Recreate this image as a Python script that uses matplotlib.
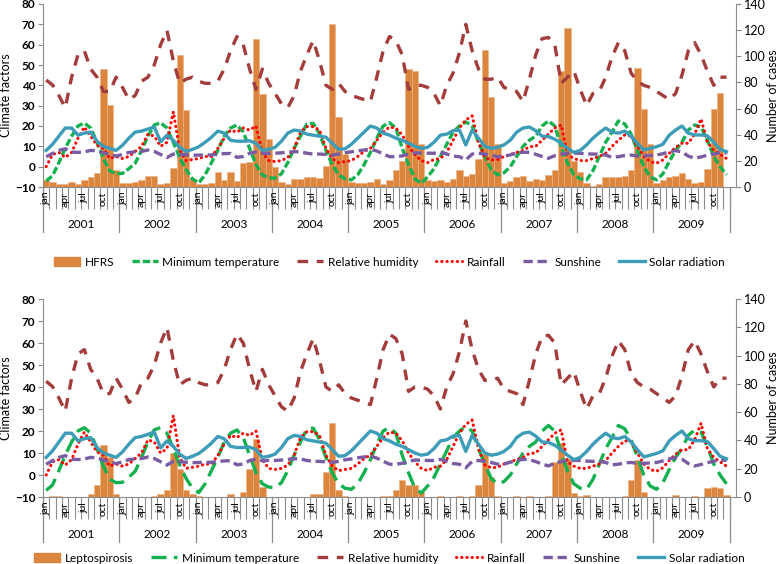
import matplotlib.pyplot as plt
import matplotlib.transforms as mtransforms
from matplotlib.lines import Line2D
import numpy as np

plt.rcParams['font.family'] = ['Lato', 'DejaVu Sans']

years = ['2001', '2002', '2003', '2004', '2005', '2006', '2007', '2008', '2009']
month_labels = ['jan', '', '', 'apr', '', '', 'jul', '', '', 'oct', '', '']

# climate factors, monthly 2001-2009 (left axis)
min_temp = [
    -7, -4.5, 2, 9, 15, 20, 21.5, 19, 12, 4, -2, -3.5,
    -3.3, -1, 1.7, 8, 15, 20.5, 21.6, 19, 12, 4.5, -1.5, -6,
    -8, -4, 2, 8, 15, 19, 20.5, 17, 9, 1, -4, -5.5,
    -5.7, -3.5, 2, 9, 15, 21, 21.3, 16, 8, 1, -4, -6,
    -6.5, -4, 1, 7, 14, 20, 21.6, 19, 9, 1, -6, -8.2,
    -5, -1, 5, 11, 17, 20, 22, 20, 12, 4.9, -1.6, -4,
    -3, 0, 5, 10, 13, 15, 20, 22.5, 20, 10, 1.7, -4,
    -6, -6.5, -2, 5, 12, 17, 22.5, 21, 16, 8, 0, -5,
    -6.5, -3.5, 2.5, 8, 12, 18, 20.5, 19.5, 13, 5, 0, -4,
]
rel_humidity = [
    42.6, 40.2, 35, 29, 44, 55, 57, 48, 44, 37, 37, 44,
    39, 33, 35, 42, 44, 50, 60, 67, 52, 41, 43, 44,
    42, 41, 41, 42, 48, 57, 64, 60, 48, 38, 48, 41,
    36, 31, 29, 35, 47, 55, 62, 52, 40, 38, 41, 37,
    35, 34, 33, 32, 44, 57, 64, 62, 55, 38, 40, 40,
    39, 36, 30, 40, 46, 56, 70, 57, 48, 43, 43, 44,
    39, 38, 37, 32, 43, 55, 63, 63.5, 60, 41, 44, 47,
    38, 30, 36, 37, 44, 54, 61, 57, 46, 42, 40, 39,
    37, 35, 33, 36, 45, 57, 61, 55, 47, 40, 44, 44,
]
rainfall = [
    0, 6, 7, 4.5, 7, 14, 19.5, 15, 10.5, 9, 4, 5,
    4, 5, 7.5, 10, 16, 15, 10, 12, 27, 8, 3, 3.5,
    4, 5, 5, 9, 14, 18, 17, 19, 18, 20, 7, 3,
    2.5, 3, 4.5, 9, 17, 19.7, 19.7, 18, 9, 4, 2, 2.5,
    3, 5, 7.5, 9, 13, 17, 19.5, 19, 15.6, 10, 6, 3,
    2, 3.5, 4, 7, 13, 19, 23, 25, 12, 4.5, 3.3, 3.5,
    5, 6, 7, 8, 9.8, 10, 13, 16, 19, 20.5, 6, 4,
    3, 3, 4, 5, 6.6, 10, 13, 15.6, 15, 10, 5, 2.5,
    1.7, 3.3, 6.6, 9.5, 11.5, 11.5, 16, 23.5, 12, 8, 6, 4,
]
sunshine = [
    4.9, 6.5, 8, 8.8, 7.2, 7.0, 7.3, 8, 7.8, 6.8, 6, 5.2,
    6, 7, 7.3, 7.5, 8.2, 7.5, 6, 4.5, 6.2, 6, 5.8, 5.6,
    5.7, 5.7, 5.8, 6.2, 6.4, 6.5, 4.6, 5, 6.6, 7.2, 6.5, 6.6,
    6.6, 6.8, 7.1, 7.4, 7.3, 6.6, 6.2, 6.2, 6, 5.7, 6.2, 6.9,
    7.3, 7.8, 8.2, 8.6, 7.7, 6.3, 4.9, 4.9, 5.3, 6.2, 6.8, 6.7,
    6.6, 6.6, 7.1, 6.2, 5.2, 4.9, 3.3, 6.2, 6.6, 6.2, 5.7, 4.9,
    5, 5.8, 6.6, 7.1, 7, 6.1, 5, 4.1, 5.4, 6.1, 6.6, 6.6,
    6.6, 6.3, 6.2, 6.2, 5.7, 4.6, 4.9, 5.5, 5.7, 5.2, 5.3, 5.5,
    5.7, 6.4, 7.3, 7.9, 7.2, 5.2, 4.1, 4.8, 5.6, 6.2, 6.9, 6.6,
]
solar_radiation = [
    8, 11, 15, 19, 19, 15.5, 16.5, 17, 12.5, 10, 9, 8,
    10.5, 14, 17, 17.5, 18.5, 19.5, 12.3, 15.5, 13, 9.5, 7.5, 8.5,
    9.8, 12, 14.5, 17.5, 16.5, 13, 12.5, 12.5, 12.7, 11.5, 8, 8.5,
    9.5, 12.5, 16.5, 18, 17.5, 16, 15.5, 15, 14.5, 11.5, 8.5, 8.8,
    11, 14, 17, 20, 19, 16.5, 15.5, 14, 13, 11.5, 10, 9,
    9.5, 12, 15.5, 16, 17.7, 18, 10.7, 18, 14, 10, 9, 9.5,
    10.7, 13, 17, 19, 19.5, 17.7, 15, 14.8, 13.5, 11.5, 9, 7,
    8, 10.7, 14, 16.7, 19, 17, 16.5, 17.5, 15, 11.5, 8.2, 9,
    9.8, 11, 15.5, 18, 20, 16.5, 15.6, 15.6, 15.2, 12, 8.5, 7.4,
]

# number of cases (right axis)
hfrs = [
    5, 3.5, 2, 2, 3.5, 2, 5, 7.6, 10.7, 90, 62.7, 12.7,
    3, 3, 4, 5, 8.4, 8.4, 2, 3.3, 14.5, 101, 58.7, 6,
    2, 2, 3, 11.5, 5, 11.5, 4.3, 18.6, 19, 113, 71, 37,
    15, 4, 2, 6.4, 6, 7.6, 7.6, 7, 15.8, 125, 53.5, 25,
    4, 3, 3, 4, 6.4, 2.5, 5, 12.7, 20, 90, 89, 33,
    5, 4.3, 5, 4, 6, 12.7, 8.4, 9.7, 21.7, 105, 69, 33,
    3, 4.3, 7.7, 8.4, 4.6, 6, 5, 9, 12.8, 89, 122, 20,
    11.5, 3, 1, 2.5, 7.7, 7.7, 7.7, 8.4, 12.8, 90.7, 60, 33,
    3, 5.6, 7.7, 8.4, 11, 6, 3, 4, 14, 60, 72, 0,
]
leptospirosis = [
    0, 0.5, 0.5, 0, 0, 0, 0, 2.4, 8.3, 36.6, 28, 2,
    0, 0, 0, 0, 0, 1, 2, 5, 31, 20, 5, 2,
    1, 0, 0, 0, 0, 2.4, 0, 3.5, 20, 41, 7, 0,
    0, 0, 0, 0, 0, 0, 2.4, 2.4, 17.7, 52, 5, 0.5,
    0, 0, 0, 0, 0, 0.5, 0.5, 4.7, 11.8, 8.3, 8.3, 3.5,
    0, 0, 0.5, 0, 0, 1, 0, 1, 8.3, 30.7, 14, 1,
    0, 0, 1, 0, 1, 0, 0, 1, 25, 38.5, 27, 2.8,
    0.5, 1.2, 0, 0, 0, 0, 0, 1, 12.3, 26, 3.5, 0,
    0, 0, 0, 1.2, 0, 0, 0.5, 0, 6.6, 7.1, 6.4, 1.2,
]

FIG_W, FIG_H = 778, 564
GRAY = '#8c8c8c'
BAR_COLOR = '#DB853F'

fig = plt.figure(figsize=(FIG_W / 100, FIG_H / 100), dpi=100)


def draw_panel(left, top, right, bottom, cases, case_name, temp_dash, leg_px):
    rect = [left / FIG_W, 1 - bottom / FIG_H, (right - left) / FIG_W, (bottom - top) / FIG_H]
    h_px = bottom - top
    w_px = right - left
    ax = fig.add_axes(rect)
    ax2 = ax.twinx()
    ax.set_zorder(ax2.get_zorder() + 1)
    ax.patch.set_visible(False)

    n = len(cases)
    x = np.arange(n) + 0.5

    ax2.bar(x, cases, width=1.0, color=BAR_COLOR, edgecolor='#EDB183', linewidth=0.4)
    ax2.set_ylim(0, 140)
    ax2.set_yticks(range(0, 141, 20))

    ax.plot(x, min_temp, color='#12B04E', lw=2.4, dashes=temp_dash)
    ax.plot(x, rel_humidity, color='#A33C3C', lw=2.4, dashes=(3.2, 2.6))
    ax.plot(x, rainfall, color='#FF0000', lw=2.2, dashes=(0.1, 1.6), dash_capstyle='round')
    ax.plot(x, sunshine, color='#7A5CA3', lw=2.4, dashes=(2.8, 1.4))
    ax.plot(x, solar_radiation, color='#3D9DB8', lw=2.4)

    ax.set_xlim(0, n + 1)
    ax.set_ylim(-10, 80)
    ax.set_yticks(range(-10, 81, 10))
    ax2.set_xlim(0, n + 1)

    for s in ['top', 'right']:
        ax.spines[s].set_visible(False)
    for s in ['top', 'left', 'bottom']:
        ax2.spines[s].set_visible(False)
    ax.spines['left'].set_color(GRAY)
    ax.spines['bottom'].set_color(GRAY)
    ax2.spines['right'].set_color(GRAY)

    ax.tick_params(axis='y', labelsize=8.5, colors=GRAY, labelcolor='black', length=3.5, pad=2)
    for lbl in ax.get_yticklabels():
        lbl.set_fontweight('bold')
    ax2.tick_params(axis='y', labelsize=9, colors=GRAY, labelcolor='black', length=3.5, pad=2)

    ax.set_xticks(range(0, n + 1))
    ax.set_xticklabels([])
    ax.tick_params(axis='x', length=16, width=0.8, colors=GRAY)

    ax.set_ylabel('Climate factors', fontsize=9)
    ax.yaxis.set_label_coords(-31 / w_px, 0.5)
    ax2.set_ylabel('Number of cases', fontsize=9, rotation=90)
    ax2.yaxis.set_label_coords(1 + 31 / w_px, 0.5)

    trans = mtransforms.blended_transform_factory(ax.transData, ax.transAxes)
    for i in range(n):
        lab = month_labels[i % 12]
        if lab:
            ax.annotate(lab, xy=(i + 0.5, 0), xycoords=trans, xytext=(0, -3.5),
                        textcoords='offset points', rotation=90, ha='center', va='top',
                        fontsize=7.5)
    sep = -45 / h_px
    for k, yr in enumerate(years):
        ax.add_line(Line2D([12 * k, 12 * k], [0, sep], transform=trans, color=GRAY,
                           lw=0.9, clip_on=False))
        ax.text(12 * k + 6, -38 / h_px, yr, transform=trans, ha='center', va='center',
                fontsize=8.5)
    ax.add_line(Line2D([12 * len(years)] * 2, [0, sep], transform=trans, color=GRAY,
                       lw=0.9, clip_on=False))

    handles = [
        plt.Rectangle((0, 0), 1, 1, color=BAR_COLOR),
        Line2D([], [], color='#12B04E', lw=2.4, dashes=temp_dash),
        Line2D([], [], color='#A33C3C', lw=2.4, dashes=(3.2, 2.6)),
        Line2D([], [], color='#FF0000', lw=2.2, dashes=(0.1, 1.6), dash_capstyle='round'),
        Line2D([], [], color='#7A5CA3', lw=2.4, dashes=(2.8, 1.4)),
        Line2D([], [], color='#3D9DB8', lw=2.4),
    ]
    labels = [case_name, 'Minimum temperature', 'Relative humidity', 'Rainfall',
              'Sunshine', 'Solar radiation']
    ax.legend(handles, labels, loc='center', bbox_to_anchor=(0.5, -leg_px / h_px), ncol=6,
              frameon=False, fontsize=8.5, handlelength=2.2, columnspacing=1.5,
              handletextpad=0.4, borderpad=0.2)
    return ax


draw_panel(43, 4, 736, 187, hfrs, 'HFRS', (2.2, 0.9), 75)
draw_panel(43, 299, 736, 497, leptospirosis, 'Leptospirosis', (4.5, 2.2), 61)

fig.savefig('out.png', dpi=100)
